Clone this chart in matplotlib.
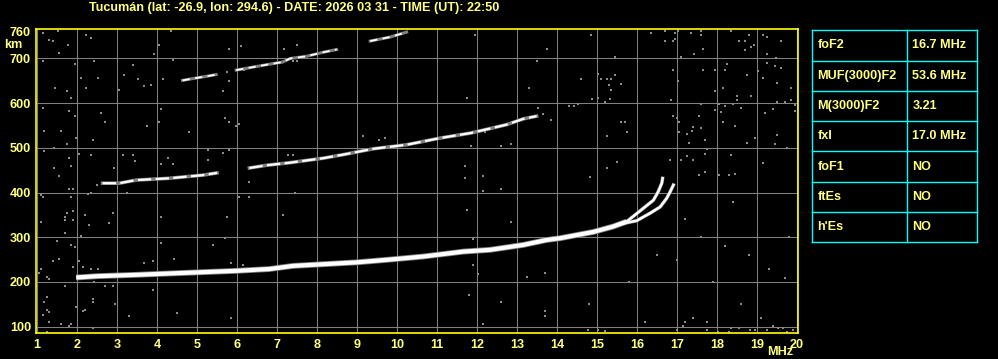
import numpy as np
import matplotlib
matplotlib.use("Agg")
import matplotlib.pyplot as plt

# ionogram Tucuman 2026-03-31 22:50 UT
TITLE = "Tucumán (lat: -26.9, lon: 294.6) - DATE: 2026 03 31 - TIME (UT): 22:50"

x_ticks = list(range(1, 21))
y_ticks = [100, 200, 300, 400, 500, 600, 700, 760]

# F trace, common part (MHz, km)
main_f = [1.98, 2.5, 3.48, 4.3, 5.14, 6.0, 6.81, 7.4, 8.2, 9.0, 9.8, 10.66,
          11.66, 12.33, 13.16, 13.74, 14.08, 14.91, 15.4, 15.74]
main_km = [210, 213, 216, 219, 222, 225, 229, 236, 240, 244, 250, 257,
           268, 272, 283, 294, 298, 312, 324, 335]
# ordinary branch near the cusp
o_f = [15.74, 16.16, 16.41, 16.53, 16.62, 16.64]
o_km = [335, 365, 383, 402, 421, 432]
# extraordinary branch
x_f = [15.6, 15.99, 16.33, 16.58, 16.74, 16.83, 16.91]
x_km = [330, 337, 354, 368, 387, 402, 417]
# second hop (nan = gap)
hop2_f = [2.64, 3.06, 3.48, 4.31, 5.14, 5.5, np.nan, 6.31, 6.73, 7.33, 8.16,
          8.66, 9.41, 10.24, 11.08, 11.83, 12.41, 12.74, 13.16, 13.49]
hop2_km = [421, 421, 428, 432, 439, 444, np.nan, 455, 461, 467, 477,
           485, 498, 507, 522, 533, 545, 552, 565, 571]
# third hop
hop3_f = [4.64, 4.89, 5.23, 5.48, np.nan, 5.98, 6.73, 7.14, 7.33, 7.74, 8.16,
          8.49, np.nan, 9.33, 9.83, 10.24]
hop3_km = [651, 655, 660, 664, np.nan, 674, 686, 692, 700, 705, 714,
           720, np.nan, 739, 748, 759]

# scattered noise echoes (MHz, km)
noise_f = [1.14, 1.52, 1.31, 1.39, 1.77, 2.35, 2.23, 1.56, 1.14, 1.96, 2.43, 3.39,
           3.18, 3.52, 3.68, 3.85, 4.14, 4.35, 4.39, 4.06, 3.93, 2.10, 2.52, 1.74,
           1.85, 3.06, 2.23, 1.45, 1.14, 1.79, 1.96, 2.60, 2.70, 3.75, 4.06, 4.10,
           4.81, 1.18, 1.60, 1.98, 2.39, 1.74, 1.43, 1.18, 1.81, 2.35, 2.04, 3.14,
           3.39, 3.45, 2.93, 1.43, 1.85, 1.54, 4.27, 4.10, 4.39, 5.27, 5.64, 5.79,
           5.27, 6.10, 5.81, 7.18, 6.06, 5.98, 5.79, 5.70, 5.64, 5.79, 5.74, 6.18,
           6.43, 7.27, 7.39,
           7.49, 7.41, 7.49, 11.95, 13.74, 13.49, 13.29, 11.74, 13.53, 13.66, 9.14,
           9.55, 9.70, 12.10, 12.20, 11.85, 12.59, 12.84, 11.70, 12.14, 7.39,
           14.85, 14.60, 15.45, 15.03, 15.10, 15.24, 15.35, 15.45, 15.60, 15.30,
           15.35, 14.87, 15.33, 15.03, 15.20, 14.30, 14.43, 14.53, 13.64, 13.85,
           15.60, 15.70, 15.74, 15.24, 15.49, 15.24, 16.35, 16.70, 16.95, 17.03,
           17.35, 17.60, 17.60, 18.35, 18.80, 19.15, 19.25, 16.70, 16.91, 16.95,
           18.70, 18.55, 18.93, 18.84, 18.70, 19.60, 17.65, 17.43, 17.10, 19.24,
           19.47, 19.24, 19.45, 19.59, 16.90, 17.65, 17.95, 18.20, 18.24, 18.74,
           19.03, 19.14, 19.49, 19.84, 18.14, 17.95, 17.03, 16.85, 18.49, 18.84,
           18.49, 18.41, 17.60, 18.05, 19.50, 19.70, 19.84, 19.95, 19.95, 19.41,
           19.20, 18.59, 18.20, 18.10, 17.95, 16.91, 16.99, 17.06, 17.55, 17.41,
           17.60, 17.37, 17.05, 17.24, 17.70, 18.14, 18.45, 18.95, 18.74, 19.51,
           19.45, 19.74, 17.29, 17.74, 17.70, 18.34, 17.24, 17.10, 16.83, 17.41,
           19.14, 17.56, 17.70, 18.05, 18.30, 18.45, 16.66, 14.83,
           1.54, 1.81, 1.89, 1.10, 1.14, 1.85, 2.27, 2.35, 2.50, 3.24, 6.29, 6.04,
           6.29, 1.74, 1.71, 1.71, 1.89, 1.89, 2.20, 2.29, 2.79, 2.91, 1.10, 2.10,
           1.71, 4.10, 5.74, 7.14, 1.50, 1.85, 1.95, 4.10, 5.39, 5.70, 1.39, 1.54,
           2.04, 1.89, 2.14, 2.35, 2.52, 1.10, 1.04, 1.25, 1.31, 1.71, 2.43, 2.70,
           2.91, 3.68, 3.89, 4.43, 5.85, 6.14, 3.89, 0.98, 1.25, 1.18, 2.39, 2.39,
           1.98, 2.21, 2.14, 1.25, 1.31, 1.14, 1.31, 1.60, 1.85, 1.81, 2.95, 3.29,
           4.50, 5.85, 2.39, 1.25,
           11.70, 12.14, 12.14, 12.59, 7.45, 11.74, 12.84, 11.89, 11.89, 12.03,
           13.24, 13.70, 11.80, 12.59, 13.70, 13.70, 12.14,
           17.2, 17.6, 18.2, 18.8, 19.3, 19.7, 17.9, 18.6, 19.1, 17.4, 16.5, 15.8,
           14.8, 16.2, 19.8, 18.4, 17.0,
           14.78, 15.03, 15.2, 17.0, 17.14, 17.2, 17.74, 17.74, 18.03, 18.3, 18.35,
           18.54, 18.83, 18.95, 19.24, 19.39, 19.53, 19.65, 19.74, 19.9]
noise_km = [757, 762, 742, 740, 731, 746, 753, 712, 694, 688, 694, 686,
            664, 653, 638, 641, 653, 762, 697, 731, 709, 656, 656, 627,
            612, 630, 634, 634, 589, 582, 571, 577, 558, 550, 559, 586,
            536, 537, 537, 522, 518, 509, 500, 492, 477, 485, 486, 483,
            483, 470, 455, 455, 460, 438, 477, 464, 464, 496, 489, 496,
            474, 727, 722, 722, 553, 550, 558, 567, 627, 650, 669, 675,
            680, 485, 483,
            731, 694, 694, 753, 722, 694, 634, 612, 589, 576, 526,
            518, 522, 539, 536, 505, 505, 509, 460, 438, 483,
            753, 653, 703, 666, 653, 653, 655, 662, 644, 640,
            629, 610, 610, 612, 603, 594, 594, 598, 576, 563,
            558, 558, 536, 527, 468, 455, 757, 762, 758, 762,
            758, 762, 753, 762, 753, 753, 749, 740, 740, 744,
            740, 740, 731, 726, 718, 740, 722, 710, 703, 709,
            700, 690, 684, 679, 675, 675, 675, 675, 688, 664,
            671, 656, 645, 634, 634, 628, 649, 608, 615, 617,
            608, 598, 598, 598, 603, 603, 608, 595, 582, 588,
            578, 589, 593, 580, 585, 572, 567, 558, 572, 547,
            544, 537, 536, 531, 518, 558, 550, 522, 511, 528,
            509, 500, 511, 498, 487, 483, 481, 474, 474, 474,
            466, 440, 445, 439, 439, 442, 433, 434,
            437, 408, 408, 395, 391, 391, 396, 398, 417, 398, 423, 391,
            391, 354, 346, 339, 359, 339, 350, 328, 333, 355, 335, 303,
            309, 346, 346, 350, 292, 283, 279, 288, 283, 298, 247, 251,
            247, 234, 234, 229, 229, 229, 221, 212, 207, 192, 199, 190,
            192, 243, 247, 251, 243, 238, 181, 190, 167, 156, 162, 156,
            145, 137, 134, 137, 132, 126, 111, 106, 105, 102, 151, 125,
            130, 119, 98, 89,
            433, 437, 404, 408, 398, 361, 335, 296, 238, 218,
            212, 221, 171, 156, 135, 124, 106,
            340, 300, 280, 260, 230, 210, 200, 150, 120, 120, 260, 200,
            150, 110, 300, 380, 250,
            92, 92, 90, 92, 101, 111, 92, 111, 89, 89, 96,
            96, 92, 92, 92, 102, 98, 98, 89, 92]

table_names = ["foF2", "MUF(3000)F2", "M(3000)F2", "fxI", "foF1", "ftEs", "h'Es"]
table_values = ["16.7 MHz", "53.6 MHz", "3.21", "17.0 MHz", "NO", "NO", "NO"]

TXT = "#FFFF80"
FS = 9.1
W, H = 998, 359

plt.rcParams['font.family'] = ['Liberation Sans', 'DejaVu Sans']
fig = plt.figure(figsize=(W / 100, H / 100), dpi=100, facecolor='black')

ax = fig.add_axes([35.5 / W, 25.7 / H, (798 - 35.5) / W, (333.3 - 29.3) / H])
ax.set_facecolor('black')
ax.set_xlim(0.9625, 20.025)
ax.set_ylim(85.2, 765.3)

for f in x_ticks:
    ax.axvline(f, color='#808080', lw=0.75, zorder=1)
for h in y_ticks[:-1]:
    ax.axhline(h, color='#808080', lw=0.75, zorder=1)

ax.scatter(noise_f, noise_km, s=4.0, marker='s', color='#8c8c8c', linewidths=0, zorder=2)

# traces: grey halo then white core
ax.plot(main_f, main_km, color='#808080', lw=4.2, solid_capstyle='butt', zorder=3)
ax.plot(main_f, main_km, color='white', lw=3.0, solid_capstyle='butt', zorder=4)
for bf, bk in [(o_f, o_km), (x_f, x_km)]:
    ax.plot(bf, bk, color='#808080', lw=2.6, zorder=3)
    ax.plot(bf, bk, color='white', lw=1.8, zorder=4)
ax.plot(hop2_f, hop2_km, color='#808080', lw=2.6, zorder=3)
ax.plot(hop2_f, hop2_km, color='white', lw=1.6, dashes=(6, 2), zorder=4)
ax.plot(hop3_f, hop3_km, color='#808080', lw=2.2, zorder=3)
ax.plot(hop3_f, hop3_km, color='white', lw=1.3, dashes=(4, 3), zorder=4)

ax.set_xticks(x_ticks)
ax.set_xticklabels([str(v) for v in x_ticks])
ax.set_yticks(y_ticks)
ax.set_yticklabels([str(v) for v in y_ticks])
ax.tick_params(length=0, colors=TXT, labelsize=FS)
ax.tick_params(axis='x', pad=4.0)
ax.tick_params(axis='y', pad=3.2)
for lab in ax.get_xticklabels() + ax.get_yticklabels():
    lab.set_fontweight('bold')
for sp in ax.spines.values():
    sp.set_color('#FFFF00')
    sp.set_linewidth(1.2)

fig.text(294 / W, 1 - 7.5 / H, TITLE, color=TXT, fontsize=FS, fontweight='bold',
         ha='center', va='center')
fig.text(13 / W, 1 - 45 / H, "km", color=TXT, fontsize=FS, fontweight='bold',
         ha='center', va='center')
fig.text(780 / W, 1 - 352 / H, "MHz", color=TXT, fontsize=FS, fontweight='bold',
         ha='center', va='center')

# parameter table
tax = fig.add_axes([812.3 / W, 1 - 242.3 / H, (977.3 - 812.3) / W, (242.3 - 30.3) / H])
tax.set_xlim(0, 1)
tax.set_ylim(7, 0)
tax.axis('off')
cyan = '#00FFFF'
for r in range(8):
    tax.plot([0, 1], [r, r], color=cyan, lw=1.0, clip_on=False)
for c in [0, 0.576, 1]:
    tax.plot([c, c], [0, 7], color=cyan, lw=1.0, clip_on=False)
for i, (n, v) in enumerate(zip(table_names, table_values)):
    tax.text(0.03, i + 0.5, n, color=TXT, fontsize=FS, fontweight='bold', va='center')
    tax.text(0.606, i + 0.5, v, color=TXT, fontsize=FS, fontweight='bold', va='center')

fig.savefig("out.png", dpi=100, facecolor='black')
